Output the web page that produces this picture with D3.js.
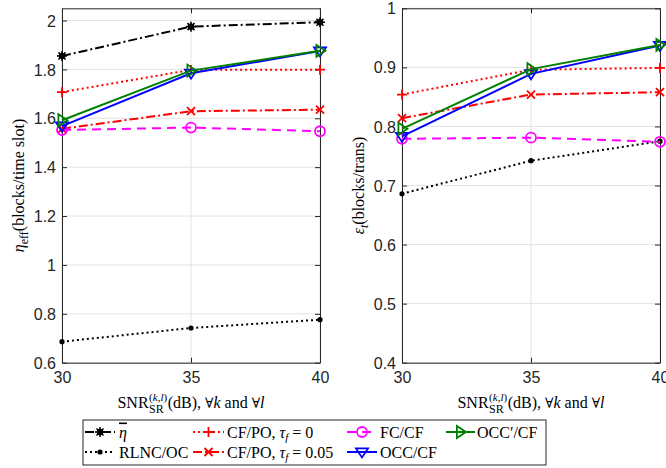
<!DOCTYPE html>
<html><head><meta charset="utf-8">
<script src="https://cdn.jsdelivr.net/npm/d3@7/dist/d3.min.js"></script>
<style>
body{margin:0;background:#fff;}
svg{display:block;}
</style></head>
<body>
<svg id="chart" width="666" height="468"></svg>
<script>
// ---------- DATA ----------
const snr = [30, 35, 40];
const xTicks = [30, 35, 40];
const leftTicks = [0.6, 0.8, 1, 1.2, 1.4, 1.6, 1.8, 2];
const rightTicks = [0.4, 0.5, 0.6, 0.7, 0.8, 0.9, 1];

const seriesNames = ["etaBar", "RLNC/OC", "CF/PO, tau=0", "CF/PO, tau=0.05", "FC/CF", "OCC/CF", "OCC'/CF"];

// left panel: eta_eff (blocks/time slot)
const leftEtaBar   = [1.855, 1.975, 1.993];
const leftRLNC     = [0.686, 0.742, 0.776];
const leftCFPO0    = [1.707, 1.798, 1.799];
const leftCFPO005  = [1.557, 1.629, 1.635];
const leftFCCF     = [1.552, 1.562, 1.547];
const leftOCC      = [1.568, 1.784, 1.875];
const leftOCCp     = [1.592, 1.795, 1.876];

// right panel: epsilon_t (blocks/trans)
const rightRLNC    = [0.686, 0.742, 0.775];
const rightCFPO0   = [0.854, 0.896, 0.899];
const rightCFPO005 = [0.814, 0.854, 0.858];
const rightFCCF    = [0.779, 0.781, 0.774];
const rightOCC     = [0.783, 0.889, 0.937];
const rightOCCp    = [0.796, 0.897, 0.938];

// ---------- STYLES ----------
const styles = {
  "etaBar":          {color:"#000000", dash:"9,3,2,3", marker:"asterisk"},
  "RLNC/OC":         {color:"#000000", dash:"2,3",     marker:"dot"},
  "CF/PO, tau=0":    {color:"#ff0000", dash:"2,3",     marker:"plus"},
  "CF/PO, tau=0.05": {color:"#ff0000", dash:"9,3,2,3", marker:"cross"},
  "FC/CF":           {color:"#ff00ff", dash:"9,6",     marker:"circle"},
  "OCC/CF":          {color:"#0000ff", dash:null,      marker:"tridown"},
  "OCC'/CF":         {color:"#008000", dash:null,      marker:"triright"}
};

const svg = d3.select("#chart");
const axisColor = "#262626";
const gridColor = "#e3e3e3";
const sansFont = "'Liberation Sans', Arial, sans-serif";
const serifFont = "'Liberation Serif', 'Times New Roman', serif";
const symFont = "'DejaVu Serif', serif";

function drawMarker(g, type, x, y, color) {
  const s = 5;
  if (type === "asterisk") {
    g.append("circle").attr("cx",x).attr("cy",y).attr("r",3.2).attr("fill",color);
    for (let a = 0; a < 4; a++) {
      const ang = a*Math.PI/4;
      g.append("line").attr("x1",x-s*Math.cos(ang)).attr("y1",y-s*Math.sin(ang))
        .attr("x2",x+s*Math.cos(ang)).attr("y2",y+s*Math.sin(ang))
        .attr("stroke",color).attr("stroke-width",1.6);
    }
  } else if (type === "dot") {
    g.append("circle").attr("cx",x).attr("cy",y).attr("r",2.6).attr("fill",color);
  } else if (type === "plus") {
    g.append("path").attr("d",`M${x-s},${y}H${x+s}M${x},${y-s}V${y+s}`)
      .attr("stroke",color).attr("stroke-width",1.8).attr("fill","none");
  } else if (type === "cross") {
    const c = 4;
    g.append("path").attr("d",`M${x-c},${y-c}L${x+c},${y+c}M${x-c},${y+c}L${x+c},${y-c}`)
      .attr("stroke",color).attr("stroke-width",1.8).attr("fill","none");
  } else if (type === "circle") {
    g.append("circle").attr("cx",x).attr("cy",y).attr("r",5).attr("fill","none")
      .attr("stroke",color).attr("stroke-width",1.8);
  } else if (type === "tridown") {
    const r = 6;
    g.append("path").attr("d",`M${x-r},${y-r*0.6}L${x+r},${y-r*0.6}L${x},${y+r*0.9}Z`)
      .attr("stroke",color).attr("stroke-width",1.8).attr("fill","none");
  } else if (type === "triright") {
    const r = 6;
    g.append("path").attr("d",`M${x-r*0.6},${y-r}L${x-r*0.6},${y+r}L${x+r*0.9},${y}Z`)
      .attr("stroke",color).attr("stroke-width",1.8).attr("fill","none");
  }
}

function drawPanel(opts) {
  const {x0, x1, y0, y1, yDomain, yTicks, series, labelFn, labelX} = opts;
  const x = d3.scaleLinear().domain([30, 40]).range([x0, x1]);
  const y = d3.scaleLinear().domain(yDomain).range([y1, y0]);
  const g = svg.append("g");

  // grid
  g.append("g").selectAll("line.gx").data(xTicks).join("line")
    .attr("x1",d=>x(d)).attr("x2",d=>x(d)).attr("y1",y0).attr("y2",y1)
    .attr("stroke",gridColor).attr("stroke-width",1);
  g.append("g").selectAll("line.gy").data(yTicks).join("line")
    .attr("x1",x0).attr("x2",x1).attr("y1",d=>y(d)).attr("y2",d=>y(d))
    .attr("stroke",gridColor).attr("stroke-width",1);

  // axes
  const fmt = d => String(+d.toFixed(2));
  const ax = g.append("g").attr("transform",`translate(0,${y1})`)
    .call(d3.axisBottom(x).tickValues(xTicks).tickSizeInner(-5).tickSizeOuter(0).tickPadding(9).tickFormat(fmt));
  const axTop = g.append("g").attr("transform",`translate(0,${y0})`)
    .call(d3.axisTop(x).tickValues(xTicks).tickSizeInner(-5).tickSizeOuter(0).tickFormat(""));
  const ay = g.append("g").attr("transform",`translate(${x0},0)`)
    .call(d3.axisLeft(y).tickValues(yTicks).tickSizeInner(-5).tickSizeOuter(0).tickPadding(6).tickFormat(fmt));
  const ayR = g.append("g").attr("transform",`translate(${x1},0)`)
    .call(d3.axisRight(y).tickValues(yTicks).tickSizeInner(-5).tickSizeOuter(0).tickFormat(""));
  [ax, axTop, ay, ayR].forEach(a => {
    a.select(".domain").attr("stroke",axisColor).attr("stroke-width",1);
    a.selectAll(".tick line").attr("stroke",axisColor);
    a.selectAll("text").attr("fill",axisColor).style("font-family",sansFont).style("font-size","16px");
  });
  ay.selectAll("text").attr("dy","0.35em");

  // lines
  const line = d3.line().x((d,i)=>x(snr[i])).y(d=>y(d));
  series.forEach(([name, vals]) => {
    const st = styles[name];
    g.append("path").datum(vals).attr("d",line).attr("fill","none")
      .attr("stroke",st.color).attr("stroke-width",2)
      .attr("stroke-dasharray",st.dash);
    vals.forEach((v,i)=>drawMarker(g, st.marker, x(snr[i]), y(v), st.color));
  });

  // y label
  labelFn(g, labelX, (y0+y1)/2);
  // x label
  drawXLabel(g, (x0+x1)/2, y1+45);
}

function drawXLabel(g, cx, baseY) {
  const grp = g.append("g");
  const t1 = grp.append("text").attr("x",0).attr("y",baseY).style("font-family",serifFont).style("font-size","16px").attr("fill","#000").text("SNR");
  const w1 = t1.node().getComputedTextLength();
  const sup = grp.append("text").attr("x",w1+0.5).attr("y",baseY-7).style("font-family",serifFont).style("font-size","11px").attr("fill","#000");
  sup.append("tspan").text("(");
  sup.append("tspan").style("font-style","italic").text("k");
  sup.append("tspan").text(",");
  sup.append("tspan").style("font-style","italic").text("l");
  sup.append("tspan").text(")");
  const sub = grp.append("text").attr("x",w1+0.5).attr("y",baseY+5).style("font-family",serifFont).style("font-size","12px").attr("fill","#000").text("SR");
  const w2 = Math.max(sup.node().getComputedTextLength(), sub.node().getComputedTextLength());
  const t3 = grp.append("text").attr("x",w1+w2+1).attr("y",baseY).style("font-family",serifFont).style("font-size","16px").attr("fill","#000");
  t3.append("tspan").text("(dB), ");
  t3.append("tspan").style("font-family",symFont).style("font-size","14px").text("∀");
  t3.append("tspan").style("font-style","italic").text("k");
  t3.append("tspan").text(" and ");
  t3.append("tspan").style("font-family",symFont).style("font-size","14px").text("∀");
  t3.append("tspan").style("font-style","italic").text("l");
  const total = w1 + w2 + 1 + t3.node().getComputedTextLength();
  grp.attr("transform",`translate(${cx-total/2},0)`);
}

function leftYLabel(g, x, cy) {
  const t = g.append("text").attr("transform",`translate(${x},${cy}) rotate(-90)`)
    .attr("text-anchor","middle").style("font-family",serifFont).style("font-size","16px").attr("fill","#000");
  t.append("tspan").style("font-style","italic").text("η");
  t.append("tspan").attr("dy",4).style("font-size","12px").text("eff");
  t.append("tspan").attr("dy",-4).text("(blocks/time slot)");
}
function rightYLabel(g, x, cy) {
  const t = g.append("text").attr("transform",`translate(${x},${cy}) rotate(-90)`)
    .attr("text-anchor","middle").style("font-family",serifFont).style("font-size","16px").attr("fill","#000");
  t.append("tspan").style("font-style","italic").text("ε");
  t.append("tspan").attr("dy",4).style("font-size","12px").style("font-style","italic").text("t");
  t.append("tspan").attr("dy",-4).text("(blocks/trans)");
}

drawPanel({
  x0:62, x1:320, y0:8.3, y1:362.7, yDomain:[0.6, 2.05], yTicks:leftTicks, labelX:24,
  labelFn:leftYLabel,
  series:[["etaBar",leftEtaBar],["RLNC/OC",leftRLNC],["CF/PO, tau=0",leftCFPO0],["CF/PO, tau=0.05",leftCFPO005],
          ["FC/CF",leftFCCF],["OCC/CF",leftOCC],["OCC'/CF",leftOCCp]]
});
drawPanel({
  x0:402, x1:660, y0:8.3, y1:362.7, yDomain:[0.4, 1], yTicks:rightTicks, labelX:364,
  labelFn:rightYLabel,
  series:[["RLNC/OC",rightRLNC],["CF/PO, tau=0",rightCFPO0],["CF/PO, tau=0.05",rightCFPO005],
          ["FC/CF",rightFCCF],["OCC/CF",rightOCC],["OCC'/CF",rightOCCp]]
});

// ---------- LEGEND ----------
const legend = svg.append("g");
legend.append("rect").attr("x",83).attr("y",420).attr("width",463).attr("height",45)
  .attr("fill","#fff").attr("stroke","#262626").attr("stroke-width",1);
const legendItems = [
  {name:"etaBar", col:0, row:0},
  {name:"RLNC/OC", col:0, row:1},
  {name:"CF/PO, tau=0", col:1, row:0},
  {name:"CF/PO, tau=0.05", col:1, row:1},
  {name:"FC/CF", col:2, row:0},
  {name:"OCC/CF", col:2, row:1},
  {name:"OCC'/CF", col:3, row:0}
];
const colX = [[85,115,119],[193,224,227],[347,377,380],[446,475,477]];
const rowY = [432, 452];
legendItems.forEach(it => {
  const st = styles[it.name];
  const [lx0, lx1, tx] = colX[it.col];
  const yy = rowY[it.row];
  legend.append("line").attr("x1",lx0).attr("x2",lx1).attr("y1",yy).attr("y2",yy)
    .attr("stroke",st.color).attr("stroke-width",2).attr("stroke-dasharray",st.dash);
  drawMarker(legend, st.marker, (lx0+lx1)/2, yy, st.color);
  const t = legend.append("text").attr("x",tx).attr("y",yy+5.5).style("font-family",serifFont)
    .style("font-size","16px").attr("fill","#000");
  if (it.name === "etaBar") {
    t.append("tspan").style("font-style","italic").style("text-decoration","overline").text("η");
  } else if (it.name === "CF/PO, tau=0") {
    t.append("tspan").text("CF/PO, ");
    t.append("tspan").style("font-style","italic").text("τ");
    t.append("tspan").attr("dy",3).style("font-size","11px").style("font-style","italic").text("f");
    t.append("tspan").attr("dy",-3).text(" = 0");
  } else if (it.name === "CF/PO, tau=0.05") {
    t.append("tspan").text("CF/PO, ");
    t.append("tspan").style("font-style","italic").text("τ");
    t.append("tspan").attr("dy",3).style("font-size","11px").style("font-style","italic").text("f");
    t.append("tspan").attr("dy",-3).text(" = 0.05");
  } else if (it.name === "OCC'/CF") {
    t.append("tspan").text("OCC′/CF");
  } else {
    t.text(it.name);
  }
});
</script>
</body></html>
